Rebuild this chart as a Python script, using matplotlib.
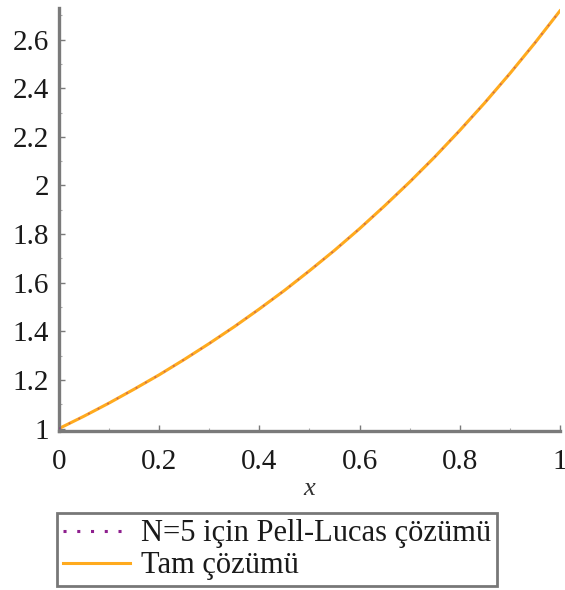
import matplotlib
matplotlib.use("Agg")
import matplotlib.pyplot as plt
from matplotlib.ticker import MultipleLocator
from matplotlib.lines import Line2D

plt.rcParams['font.family'] = ['Liberation Serif', 'DejaVu Serif']

# Sample points along x
x_vals = [0.0, 0.05, 0.1, 0.15, 0.2, 0.25, 0.3, 0.35, 0.4, 0.45, 0.5,
          0.55, 0.6, 0.65, 0.7, 0.75, 0.8, 0.85, 0.9, 0.95, 1.0]
# N=5 Pell-Lucas approximate solution
pell_lucas = [1.000, 1.051, 1.105, 1.162, 1.221, 1.284, 1.350, 1.419, 1.492, 1.568, 1.649,
              1.733, 1.822, 1.916, 2.014, 2.117, 2.226, 2.340, 2.460, 2.586, 2.718]
# Exact solution
exact = [1.000, 1.051, 1.105, 1.162, 1.221, 1.284, 1.350, 1.419, 1.492, 1.568, 1.649,
         1.733, 1.822, 1.916, 2.014, 2.117, 2.226, 2.340, 2.460, 2.586, 2.718]

x_ticks = [0, 0.2, 0.4, 0.6, 0.8, 1]
x_tick_labels = ['0', '0.2', '0.4', '0.6', '0.8', '1']
y_ticks = [1, 1.2, 1.4, 1.6, 1.8, 2, 2.2, 2.4, 2.6]
y_tick_labels = ['1', '1.2', '1.4', '1.6', '1.8', '2', '2.2', '2.4', '2.6']

purple = '#8E1F8E'
orange = '#FFAA1E'

fig = plt.figure(figsize=(5.65, 5.9), dpi=100)
ax = fig.add_axes([0.1044, 0.2695, 0.8866, 0.717])

ax.plot(x_vals, exact, color=orange, lw=2.2, zorder=2)
ax.plot(x_vals, pell_lucas, color=purple, lw=1.3, ls=(0, (1, 5)), zorder=3, alpha=0.45)

ax.set_xlim(0, 1)
ax.set_ylim(0.99, 2.73)

ax.set_xticks(x_ticks)
ax.set_xticklabels(x_tick_labels)
ax.set_yticks(y_ticks)
ax.set_yticklabels(y_tick_labels)
ax.xaxis.set_minor_locator(MultipleLocator(0.1))
ax.yaxis.set_minor_locator(MultipleLocator(0.1))

spine_col = '#7a7a7a'
for side in ['top', 'right']:
    ax.spines[side].set_visible(False)
for side in ['left', 'bottom']:
    ax.spines[side].set_color(spine_col)
    ax.spines[side].set_linewidth(2.4)

ax.tick_params(which='major', direction='in', length=4, width=1, color=spine_col,
               labelsize=21, labelcolor='#1a1a1a')
ax.tick_params(axis='x', which='major', pad=13)
ax.tick_params(axis='y', which='major', pad=7)
ax.tick_params(which='minor', direction='in', length=2.5, width=0.8, color='#aaaaaa')

ax.set_xlabel('x', fontstyle='italic', fontsize=19, color='#333333', labelpad=2)

legend_handles = [
    Line2D([], [], color=purple, lw=2.2, ls=(0, (1, 3.5))),
    Line2D([], [], color=orange, lw=2.2),
]
legend_labels = ['N=5 için Pell-Lucas çözümü', 'Tam çözümü']
leg = fig.legend(legend_handles, legend_labels, loc='lower left',
                 bbox_to_anchor=(0.1, 0.006), fontsize=22, frameon=True,
                 fancybox=False, handlelength=2.2, handletextpad=0.35,
                 borderpad=0.2, labelspacing=0.1, borderaxespad=0.0)
leg.get_frame().set_edgecolor('#555555')
leg.get_frame().set_linewidth(2.0)
for t in leg.get_texts():
    t.set_color('#1a1a1a')

fig.savefig('out.png', dpi=100)
